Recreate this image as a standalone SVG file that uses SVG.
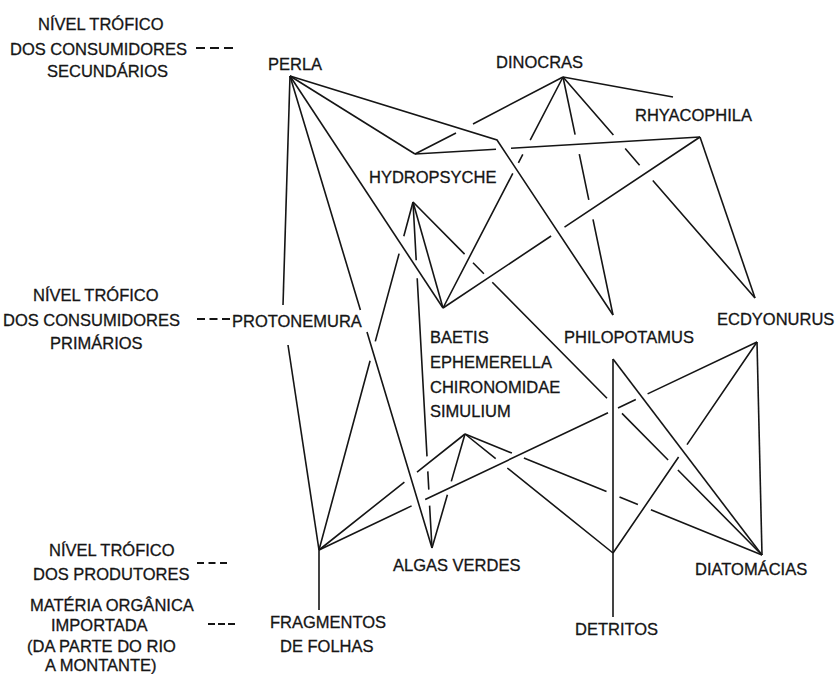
<svg xmlns="http://www.w3.org/2000/svg" width="835" height="674" viewBox="0 0 835 674">
<style>
text{font-family:"Liberation Sans",Arial,Helvetica,sans-serif;font-size:16.5px;fill:#151515;stroke:#151515;stroke-width:0.3}
.c{fill:none;stroke:#151515;stroke-width:1.6;stroke-linecap:butt;stroke-linejoin:miter}
.lead{fill:none;stroke:#151515;stroke-width:1.8;stroke-dasharray:9 5}
</style>
<rect width="835" height="674" fill="#ffffff"/>

<g id="levels">
  <g id="level-secondary">
    <text x="38" y="30">NÍVEL TRÓFICO</text>
    <text x="10" y="55">DOS CONSUMIDORES</text>
    <text x="47" y="77">SECUNDÁRIOS</text>
    <path class="lead" d="M196,48 H233"/>
  </g>
  <g id="level-primary">
    <text x="33" y="301">NÍVEL TRÓFICO</text>
    <text x="3" y="326">DOS CONSUMIDORES</text>
    <text x="50" y="349">PRIMÁRIOS</text>
    <path class="lead" d="M197,319 H230" style="stroke-dasharray:8 4.5"/>
  </g>
  <g id="level-producers">
    <text x="49" y="556">NÍVEL TRÓFICO</text>
    <text x="33" y="580">DOS PRODUTORES</text>
    <path class="lead" d="M197,563 H227" style="stroke-dasharray:7 4.5"/>
  </g>
  <g id="level-imported">
    <text x="30" y="611">MATÉRIA ORGÂNICA</text>
    <text x="51" y="631">IMPORTADA</text>
    <text x="27" y="652">(DA PARTE DO RIO</text>
    <text x="45" y="671">A MONTANTE)</text>
    <path class="lead" d="M208,624 H235" style="stroke-dasharray:7 3"/>
  </g>
</g>

<g id="connectors">
  <!-- Dinocras -> Hydropsyche -->
  <path class="c" d="M563,77 L473,124 M456,133 L415,154"/>
  <!-- Hydropsyche -> Rhyacophila -->
  <path class="c" d="M415,154 L496,149.2 M511,148.3 L700,137"/>
  <!-- Dinocras -> Baetis group -->
  <path class="c" d="M563,77 L530.2,140.2 M522.8,154.4 L518.4,162.8 M512.8,173.4 L443,308"/>
  <!-- Dinocras -> Philopotamus -->
  <path class="c" d="M563,77 L575.1,134.6 M579.3,154.2 L588.8,199.8 M593,219.4 L613,315"/>
  <!-- Dinocras -> Ecdyonurus -->
  <path class="c" d="M563,77 L613.4,135 M625.2,148.6 L639.6,165.3 M652.8,180.4 L755,298"/>
  <!-- Rhyacophila -> Baetis group -->
  <path class="c" d="M700,137 L564.5,227.2 M551.1,236 L443,308"/>
  <!-- Perla -> Philopotamus (bent) -->
  <path class="c" d="M290,76 L497,140 L613,315"/>
  <!-- Hydropsyche -> Diatomacias -->
  <path class="c" d="M413,202 L464.6,254.1 M473,262.7 L483.9,273.7 M492.3,282.3 L607,398.2 M622,413.4 L668.1,460 M677.9,470 L762,555"/>
  <!-- Hydropsyche -> Algas verdes -->
  <path class="c" d="M413,202 L416.2,260.3 M417.2,278.3 L427,456.4 M427.8,471.4 L428.8,489.6 M429.6,505.6 L432,548"/>
  <!-- Hydropsyche -> Fragmentos -->
  <path class="c" d="M413,202 L403.8,236.2 M399.1,253.6 L375.3,341.4 M370.1,360.7 L319,550"/>
  <!-- Perla -> Algas verdes -->
  <path class="c" d="M290,76 L360.4,310 M367,332 L432,548"/>
  <!-- Baetis group -> Fragmentos -->
  <path class="c" d="M465,434 L417,472.1 M404.4,482.1 L319,550"/>
  <!-- Baetis group -> Algas verdes -->
  <path class="c" d="M465,434 L451.3,481.4 M447.4,494.8 L432,548"/>
  <!-- Baetis group -> Detritos -->
  <path class="c" d="M465,434 L495.7,458.6 M507.3,468 L613,553"/>
  <!-- Baetis group -> Diatomacias -->
  <path class="c" d="M465,434 L511.9,453.1 M523.9,458 L606.5,491.6 M619.5,496.9 L637.9,504.5 M650.9,509.7 L762,555"/>
  <!-- Ecdyonurus -> Fragmentos -->
  <path class="c" d="M757,342 L647.6,393.9 M635.8,399.5 L618,408 M608,412.8 L425.2,499.5 M411.6,505.9 L319,550"/>
  <!-- Ecdyonurus -> Detritos -->
  <path class="c" d="M613,553 L678.6,457 M687,444.6 L757,342"/>
  <!-- Philopotamus -> Diatomacias -->
  <path class="c" d="M613,359 L762,555"/>
  <!-- Philopotamus -> Detritos -->
  <path class="c" d="M613,359 L613,617"/>
  <!-- Perla -> Baetis group -->
  <path class="c" d="M290,76 L443,308"/>
  <!-- Perla -> Hydropsyche -->
  <path class="c" d="M290,76 L415,154"/>
  <!-- Perla -> Protonemura -->
  <path class="c" d="M290,76 L283,305"/>
  <!-- Protonemura -> Fragmentos -->
  <path class="c" d="M288,345 L319,550"/>
  <!-- Fragmentos stem -->
  <path class="c" d="M319,550 L319,610"/>
  <!-- Hydropsyche -> Baetis group -->
  <path class="c" d="M413,202 L443,308"/>
  <!-- Dinocras -> Rhyacophila -->
  <path class="c" d="M563,77 L673,97"/>
  <!-- Rhyacophila -> Ecdyonurus -->
  <path class="c" d="M700,137 L755,298"/>
  <!-- Ecdyonurus -> Diatomacias -->
  <path class="c" d="M757,342 L762,555"/>
</g>

<g id="perla"><text x="268" y="70">PERLA</text></g>
<g id="dinocras"><text x="496" y="68">DINOCRAS</text></g>
<g id="rhyacophila"><text x="635" y="121">RHYACOPHILA</text></g>
<g id="hydropsyche"><text x="369" y="183">HYDROPSYCHE</text></g>
<g id="protonemura"><text x="232" y="327">PROTONEMURA</text></g>
<g id="baetis-group">
  <text x="430" y="343">BAETIS</text>
  <text x="430" y="368">EPHEMERELLA</text>
  <text x="430" y="393">CHIRONOMIDAE</text>
  <text x="430" y="417">SIMULIUM</text>
</g>
<g id="philopotamus"><text x="564" y="343">PHILOPOTAMUS</text></g>
<g id="ecdyonurus"><text x="717" y="325">ECDYONURUS</text></g>
<g id="algas-verdes"><text x="393" y="571">ALGAS VERDES</text></g>
<g id="diatomacias"><text x="695" y="575">DIATOMÁCIAS</text></g>
<g id="fragmentos"><text x="270" y="628">FRAGMENTOS</text><text x="280" y="652">DE FOLHAS</text></g>
<g id="detritos"><text x="575" y="635">DETRITOS</text></g>
</svg>
